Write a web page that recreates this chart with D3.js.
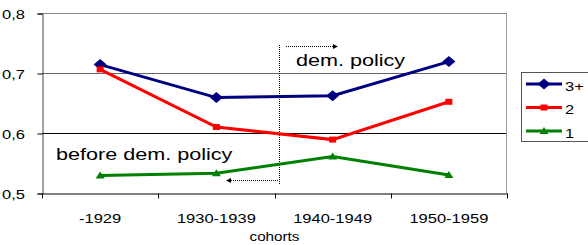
<!DOCTYPE html>
<html>
<head>
<meta charset="utf-8">
<script src="https://cdn.jsdelivr.net/npm/d3@7"></script>
<style>
  body { margin: 0; background: #fff; }
  svg { font-family: "Liberation Sans", Arial, sans-serif; }
</style>
</head>
<body>
<script>
// chart data
const cohorts = ["-1929", "1930-1939", "1940-1949", "1950-1959"];
const seriesNames = ["3+", "2", "1"];
const values3plus = [0.714, 0.659, 0.662, 0.719];
const values2 = [0.706, 0.610, 0.589, 0.652];
const values1 = [0.529, 0.533, 0.561, 0.530];
const yTicks = [0.5, 0.6, 0.7, 0.8];

const svgWidth = 588;
const svgHeight = 245;
const colors = ["#000080", "#ff0000", "#008000"];
const seriesData = [values3plus, values2, values1];
const stretch = 1.27; // the source picture is wider than tall-scaled

const svg = d3.select("body")
              .append("svg")
              .attr("width", svgWidth)
              .attr("height", svgHeight);

const x = d3.scaleBand()
            .domain(cohorts)
            .range([42, 507]);

const y = d3.scaleLinear()
            .domain([0.5, 0.8])
            .range([193, 13]);

// stretched text helper
const addText = (parent, tx, ty, str, size, anchor) => {
  return parent.append("text")
    .attr("transform", "translate(" + tx + "," + ty + ") scale(" + stretch + ",1)")
    .attr("text-anchor", anchor || "start")
    .attr("font-size", size)
    .attr("fill", "#000")
    .text(str);
};

// gridlines
const gridColor = {0.8: "#888", 0.7: "#666", 0.6: "#000"};
svg.append("g")
   .selectAll("line")
   .data(yTicks.filter(d => d > 0.5))
   .enter()
   .append("line")
   .attr("x1", 42)
   .attr("x2", 507)
   .attr("y1", d => Math.round(y(d)) + 0.5)
   .attr("y2", d => Math.round(y(d)) + 0.5)
   .attr("stroke", d => gridColor[d])
   .attr("stroke-width", 1);

// right border of plot area
svg.append("line")
   .attr("x1", 506.5).attr("x2", 506.5)
   .attr("y1", y(0.8)).attr("y2", y(0.5))
   .attr("stroke", "#999");

// y axis
const yAxis = svg.append("g")
   .attr("transform", "translate(42.5,0.5)")
   .call(d3.axisLeft(y)
           .tickValues(yTicks)
           .tickSize(5)
           .tickFormat(""));
yAxis.select(".domain").attr("stroke", "#444");
yAxis.selectAll("line").attr("stroke", "#000");
yTicks.forEach(t => {
  addText(svg, 25, y(t) + 5.5, d3.format(".1f")(t).replace(".", ","), 13, "end");
});

// x axis
const xAxis = svg.append("g")
   .attr("transform", "translate(0.5," + (Math.round(y(0.5)) + 0.5) + ")")
   .call(d3.axisBottom(x).tickSize(0).tickSizeOuter(0).tickFormat(""));
xAxis.select(".domain").attr("stroke", "#000");
// category boundary ticks
const boundaries = cohorts.map(c => x(c)).concat([x.range()[1]]);
xAxis.selectAll(".bound")
     .data(boundaries)
     .enter()
     .append("line")
     .attr("class", "bound")
     .attr("x1", d => Math.round(d)).attr("x2", d => Math.round(d))
     .attr("y1", 0).attr("y2", 5)
     .attr("stroke", "#000");
cohorts.forEach(c => {
  addText(svg, x(c) + x.bandwidth() / 2, 223, c, 13, "middle");
});

addText(svg, (x.range()[0] + x.range()[1]) / 2, 241, "cohorts", 12, "middle");

// policy markers
svg.append("line")
   .attr("x1", 279.5).attr("x2", 279.5)
   .attr("y1", 45).attr("y2", 185)
   .attr("stroke", "#000")
   .attr("stroke-width", 1)
   .attr("stroke-dasharray", "1,1");

const defs = svg.append("defs");
defs.append("marker")
    .attr("id", "arr")
    .attr("viewBox", "0 0 6 6")
    .attr("refX", 5).attr("refY", 3)
    .attr("markerWidth", 5).attr("markerHeight", 5)
    .attr("orient", "auto")
    .append("path")
    .attr("d", "M0,0L6,3L0,6Z")
    .attr("fill", "#000");

svg.append("line")
   .attr("x1", 286).attr("x2", 337)
   .attr("y1", 46.5).attr("y2", 46.5)
   .attr("stroke", "#000")
   .attr("stroke-dasharray", "1,1")
   .attr("marker-end", "url(#arr)");

svg.append("line")
   .attr("x1", 278).attr("x2", 227)
   .attr("y1", 180.5).attr("y2", 180.5)
   .attr("stroke", "#000")
   .attr("stroke-dasharray", "1,1")
   .attr("marker-end", "url(#arr)");

addText(svg, 296, 66, "dem. policy", 17);
addText(svg, 56, 160, "before dem. policy", 17);

// series lines
const line = d3.line()
               .x((d, i) => x(cohorts[i]) + x.bandwidth() / 2)
               .y(d => y(d));

const symbolPaths = [
  "M-6.5,0L0,-5.5L6.5,0L0,5.5Z",
  "M-3.5,-3L3.5,-3L3.5,3L-3.5,3Z",
  "M-4.5,3L0,-4L4.5,3Z"
];

seriesData.forEach((vals, s) => {
  svg.append("path")
     .datum(vals)
     .attr("fill", "none")
     .attr("stroke", colors[s])
     .attr("stroke-width", 3)
     .attr("d", line);

  svg.append("g")
     .selectAll("path")
     .data(vals)
     .enter()
     .append("path")
     .attr("transform", (d, i) => "translate(" + (x(cohorts[i]) + x.bandwidth() / 2) + "," + y(d) + ")")
     .attr("d", symbolPaths[s])
     .attr("fill", colors[s]);
});

// legend
const legend = svg.append("g").attr("transform", "translate(521,72)");
legend.append("rect")
      .attr("x", 0.5).attr("y", 0.5)
      .attr("width", 70).attr("height", 69)
      .attr("fill", "#fff")
      .attr("stroke", "#555");

const items = legend.selectAll(".item")
      .data(seriesNames)
      .enter()
      .append("g")
      .attr("transform", (d, i) => "translate(0," + (12 + i * 23.5) + ")");
items.append("line")
     .attr("x1", 5).attr("x2", 41)
     .attr("stroke", (d, i) => colors[i])
     .attr("stroke-width", 3);
items.append("path")
     .attr("transform", "translate(23,0)")
     .attr("d", (d, i) => symbolPaths[i])
     .attr("fill", (d, i) => colors[i]);
items.each(function(d) {
  addText(d3.select(this), 44, 6.5, d, 13);
});
</script>
</body>
</html>
